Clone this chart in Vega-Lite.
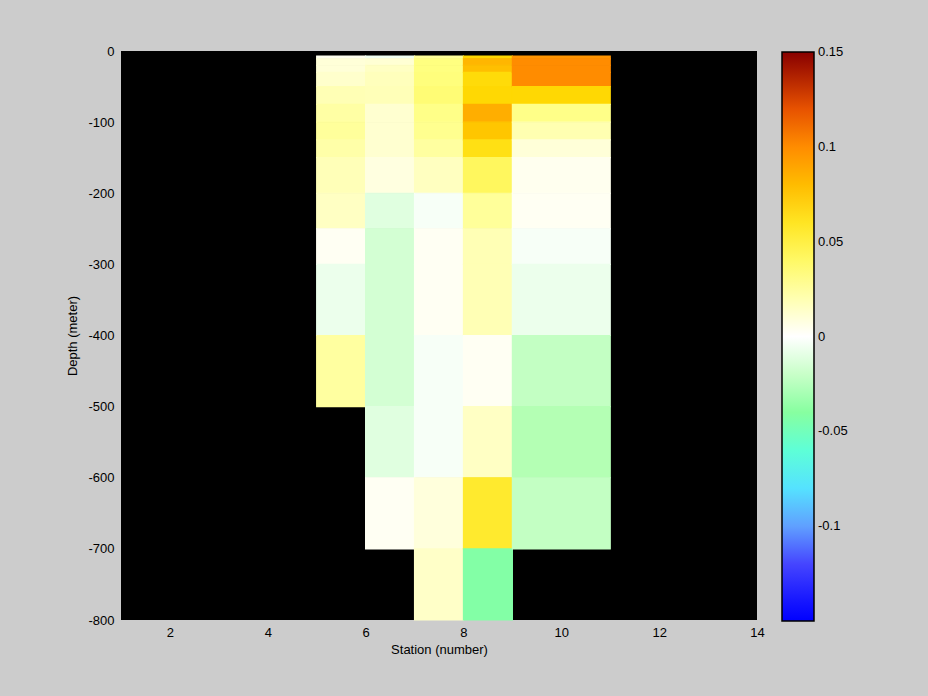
{
  "$schema": "https://vega.github.io/schema/vega-lite/v6.json",
  "width": 636,
  "height": 569,
  "autosize": {"type": "none"},
  "padding": {"left": 121, "top": 51, "right": 171, "bottom": 76},
  "background": "#cccccc",
  "config": {
    "view": {"fill": "black", "stroke": null},
    "font": "Liberation Sans",
    "axis": {"labelColor": "black", "titleColor": "black", "titleFontWeight": "normal", "labelFontSize": 13, "titleFontSize": 13, "grid": false, "domain": false, "ticks": false}
  },
  "data": {
    "values": [
      {"s0": 5, "s1": 6, "d0": -11, "d1": -7, "value": 0.004},
      {"s0": 5, "s1": 6, "d0": -20, "d1": -11, "value": 0.010},
      {"s0": 5, "s1": 6, "d0": -30, "d1": -20, "value": 0.010},
      {"s0": 5, "s1": 6, "d0": -50, "d1": -30, "value": 0.013},
      {"s0": 5, "s1": 6, "d0": -75, "d1": -50, "value": 0.019},
      {"s0": 5, "s1": 6, "d0": -100, "d1": -75, "value": 0.0235},
      {"s0": 5, "s1": 6, "d0": -125, "d1": -100, "value": 0.0257},
      {"s0": 5, "s1": 6, "d0": -150, "d1": -125, "value": 0.0225},
      {"s0": 5, "s1": 6, "d0": -200, "d1": -150, "value": 0.018},
      {"s0": 5, "s1": 6, "d0": -250, "d1": -200, "value": 0.0153},
      {"s0": 5, "s1": 6, "d0": -300, "d1": -250, "value": 0.003},
      {"s0": 5, "s1": 6, "d0": -400, "d1": -300, "value": -0.007},
      {"s0": 5, "s1": 6, "d0": -500, "d1": -400, "value": 0.0246},

      {"s0": 6, "s1": 7, "d0": -11, "d1": -7, "value": -0.005},
      {"s0": 6, "s1": 7, "d0": -20, "d1": -11, "value": 0.011},
      {"s0": 6, "s1": 7, "d0": -30, "d1": -20, "value": 0.015},
      {"s0": 6, "s1": 7, "d0": -50, "d1": -30, "value": 0.017},
      {"s0": 6, "s1": 7, "d0": -75, "d1": -50, "value": 0.018},
      {"s0": 6, "s1": 7, "d0": -100, "d1": -75, "value": 0.012},
      {"s0": 6, "s1": 7, "d0": -125, "d1": -100, "value": 0.012},
      {"s0": 6, "s1": 7, "d0": -150, "d1": -125, "value": 0.012},
      {"s0": 6, "s1": 7, "d0": -200, "d1": -150, "value": 0.008},
      {"s0": 6, "s1": 7, "d0": -250, "d1": -200, "value": -0.011},
      {"s0": 6, "s1": 7, "d0": -300, "d1": -250, "value": -0.016},
      {"s0": 6, "s1": 7, "d0": -400, "d1": -300, "value": -0.016},
      {"s0": 6, "s1": 7, "d0": -500, "d1": -400, "value": -0.016},
      {"s0": 6, "s1": 7, "d0": -600, "d1": -500, "value": -0.011},
      {"s0": 6, "s1": 7, "d0": -700, "d1": -600, "value": 0.003},

      {"s0": 7, "s1": 8, "d0": -11, "d1": -7, "value": 0.026},
      {"s0": 7, "s1": 8, "d0": -20, "d1": -11, "value": 0.033},
      {"s0": 7, "s1": 8, "d0": -30, "d1": -20, "value": 0.033},
      {"s0": 7, "s1": 8, "d0": -50, "d1": -30, "value": 0.034},
      {"s0": 7, "s1": 8, "d0": -75, "d1": -50, "value": 0.036},
      {"s0": 7, "s1": 8, "d0": -100, "d1": -75, "value": 0.031},
      {"s0": 7, "s1": 8, "d0": -125, "d1": -100, "value": 0.029},
      {"s0": 7, "s1": 8, "d0": -150, "d1": -125, "value": 0.0246},
      {"s0": 7, "s1": 8, "d0": -200, "d1": -150, "value": 0.016},
      {"s0": 7, "s1": 8, "d0": -250, "d1": -200, "value": -0.003},
      {"s0": 7, "s1": 8, "d0": -300, "d1": -250, "value": 0.003},
      {"s0": 7, "s1": 8, "d0": -400, "d1": -300, "value": 0.003},
      {"s0": 7, "s1": 8, "d0": -500, "d1": -400, "value": -0.003},
      {"s0": 7, "s1": 8, "d0": -600, "d1": -500, "value": -0.003},
      {"s0": 7, "s1": 8, "d0": -700, "d1": -600, "value": 0.009},
      {"s0": 7, "s1": 8, "d0": -800, "d1": -700, "value": 0.014},

      {"s0": 8, "s1": 9, "d0": -11, "d1": -7, "value": 0.072},
      {"s0": 8, "s1": 9, "d0": -20, "d1": -11, "value": 0.083},
      {"s0": 8, "s1": 9, "d0": -30, "d1": -20, "value": 0.079},
      {"s0": 8, "s1": 9, "d0": -50, "d1": -30, "value": 0.069},
      {"s0": 8, "s1": 9, "d0": -75, "d1": -50, "value": 0.071},
      {"s0": 8, "s1": 9, "d0": -100, "d1": -75, "value": 0.087},
      {"s0": 8, "s1": 9, "d0": -125, "d1": -100, "value": 0.077},
      {"s0": 8, "s1": 9, "d0": -150, "d1": -125, "value": 0.065},
      {"s0": 8, "s1": 9, "d0": -200, "d1": -150, "value": 0.042},
      {"s0": 8, "s1": 9, "d0": -250, "d1": -200, "value": 0.026},
      {"s0": 8, "s1": 9, "d0": -300, "d1": -250, "value": 0.019},
      {"s0": 8, "s1": 9, "d0": -400, "d1": -300, "value": 0.019},
      {"s0": 8, "s1": 9, "d0": -500, "d1": -400, "value": 0.003},
      {"s0": 8, "s1": 9, "d0": -600, "d1": -500, "value": 0.015},
      {"s0": 8, "s1": 9, "d0": -700, "d1": -600, "value": 0.056},
      {"s0": 8, "s1": 9, "d0": -800, "d1": -700, "value": -0.042},

      {"s0": 9, "s1": 11, "d0": -11, "d1": -7, "value": 0.097},
      {"s0": 9, "s1": 11, "d0": -20, "d1": -11, "value": 0.1},
      {"s0": 9, "s1": 11, "d0": -30, "d1": -20, "value": 0.1},
      {"s0": 9, "s1": 11, "d0": -50, "d1": -30, "value": 0.1},
      {"s0": 9, "s1": 11, "d0": -75, "d1": -50, "value": 0.071},
      {"s0": 9, "s1": 11, "d0": -100, "d1": -75, "value": 0.031},
      {"s0": 9, "s1": 11, "d0": -125, "d1": -100, "value": 0.02},
      {"s0": 9, "s1": 11, "d0": -150, "d1": -125, "value": 0.010},
      {"s0": 9, "s1": 11, "d0": -200, "d1": -150, "value": 0.004},
      {"s0": 9, "s1": 11, "d0": -250, "d1": -200, "value": 0.003},
      {"s0": 9, "s1": 11, "d0": -300, "d1": -250, "value": -0.003},
      {"s0": 9, "s1": 11, "d0": -400, "d1": -300, "value": -0.007},
      {"s0": 9, "s1": 11, "d0": -500, "d1": -400, "value": -0.022},
      {"s0": 9, "s1": 11, "d0": -600, "d1": -500, "value": -0.026},
      {"s0": 9, "s1": 11, "d0": -700, "d1": -600, "value": -0.022}
    ]
  },
  "mark": {"type": "rect", "strokeWidth": 1.2, "stroke": {"expr": "scale('color', datum.value)"}},
  "encoding": {
    "x": {
      "field": "s0", "type": "quantitative",
      "scale": {"domain": [1, 14], "nice": false, "zero": false},
      "axis": {"values": [2, 4, 6, 8, 10, 12, 14], "labelPadding": 6, "titlePadding": 4, "labelFlush": false},
      "title": "Station (number)"
    },
    "x2": {"field": "s1"},
    "y": {
      "field": "d0", "type": "quantitative",
      "scale": {"domain": [-800, 0], "nice": false, "zero": false},
      "axis": {"values": [-800, -700, -600, -500, -400, -300, -200, -100, 0], "labelExpr": "toString(datum.value)", "labelPadding": 7, "titlePadding": 8, "labelFlush": false},
      "title": "Depth (meter)"
    },
    "y2": {"field": "d1"},
    "color": {
      "field": "value", "type": "quantitative",
      "scale": {
        "domain": [-0.15, -0.125, -0.11, -0.1, -0.085, -0.072, -0.058, -0.05, -0.035, -0.023, -0.014, 0, 0.016, 0.033, 0.05, 0.065, 0.072, 0.08, 0.087, 0.1, 0.112, 0.125, 0.15],
        "range": ["#0000ff", "#3535ff", "#6464ff", "#60a0ff", "#58d0ff", "#50ffff", "#60ffd0", "#74ffc0", "#90ff90", "#c0ffc0", "#d8ffd8", "#ffffff", "#ffffc0", "#ffff80", "#fff040", "#ffe014", "#ffd700", "#ffbc00", "#ffae00", "#ff8c00", "#ff7000", "#d84000", "#880000"],
        "interpolate": "rgb",
        "nice": false, "zero": false
      },
      "legend": {
        "type": "gradient",
        "orient": "none", "legendX": 661, "legendY": 1, "direction": "vertical",
        "gradientLength": 569, "gradientThickness": 32,
        "gradientStrokeColor": "black", "gradientStrokeWidth": 1.5,
        "values": [-0.1, -0.05, 0, 0.05, 0.1, 0.15],
        "labelExpr": "toString(datum.value)",
        "labelFontSize": 13, "labelColor": "black", "labelOffset": 4,
        "labelBaseline": "middle", "labelOverlap": false,
        "title": null, "padding": 0,
        "encode": {"labels": {"update": {"baseline": {"value": "middle"}}}}
      }
    }
  }
}
